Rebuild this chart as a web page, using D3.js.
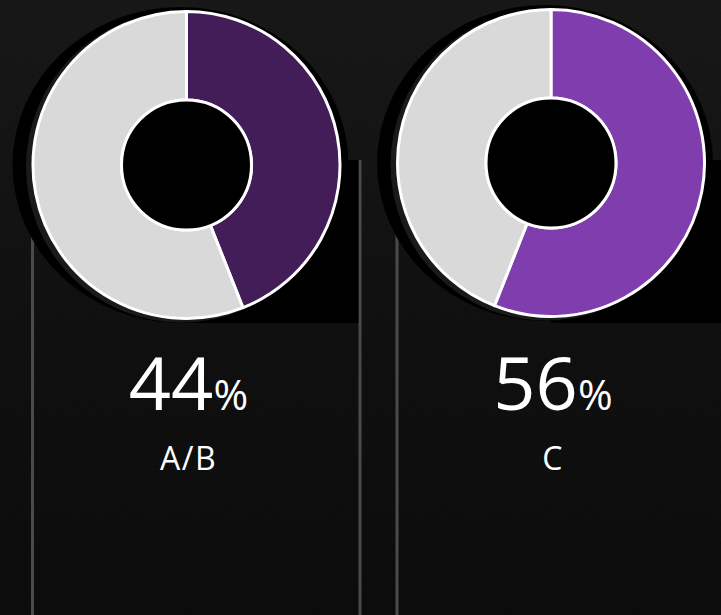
<!DOCTYPE html>
<html>
<head>
<meta charset="utf-8">
<script src="https://cdn.jsdelivr.net/npm/d3@7"></script>
<style>
  html, body { margin: 0; padding: 0; background: #0e0e0e; }
  svg { display: block; }
</style>
</head>
<body>
<script>
// ---- data ----
const categories = ["A/B", "C"];
const values = [44, 56];            // percent shown per panel
const percentLabels = ["44", "56"];
const seriesColors = ["#421d58", "#803dad"];
const restColor = "#d9d9d9";

const W = 721, H = 615;
const svg = d3.select("body").append("svg").attr("width", W).attr("height", H);
const defs = svg.append("defs");

// background gradient + grain
const bg = defs.append("linearGradient").attr("id", "bg").attr("x1", 0).attr("y1", 0).attr("x2", 0).attr("y2", 1);
bg.append("stop").attr("offset", "0%").attr("stop-color", "#141414");
bg.append("stop").attr("offset", "55%").attr("stop-color", "#0c0c0c");
bg.append("stop").attr("offset", "100%").attr("stop-color", "#080808");
const noise = defs.append("filter").attr("id", "noise").attr("x", 0).attr("y", 0).attr("width", 1).attr("height", 1);
noise.append("feTurbulence").attr("type", "fractalNoise").attr("baseFrequency", 0.8).attr("numOctaves", 2).attr("seed", 3).attr("result", "n");
noise.append("feColorMatrix").attr("type", "matrix")
  .attr("values", "0 0 0 0 1  0 0 0 0 1  0 0 0 0 1  0 0 0 0.03 0");

svg.append("rect").attr("width", W).attr("height", H).attr("fill", "url(#bg)");
svg.append("rect").attr("width", W).attr("height", H).attr("filter", "url(#noise)");

// ---- scales ----
const x = d3.scalePoint().domain(categories).range([186.5, 551]);
const cyOf = d3.scaleOrdinal().domain(categories).range([165, 163]);
const R = 153.5, r = 65;

const pie = d3.pie().sort(null).startAngle(0).endAngle(2 * Math.PI);
const arc = d3.arc().innerRadius(r).outerRadius(R);

categories.forEach((cat, i) => {
  const cx = x(cat), cy = cyOf(cat);
  const g = svg.append("g");

  // panel borders
  g.append("line").attr("x1", cx - R - 0.5).attr("x2", cx - R - 0.5).attr("y1", 160).attr("y2", H)
    .attr("stroke", "#4a4a4a").attr("stroke-width", 3);
  g.append("line").attr("x1", cx + 173.5).attr("x2", cx + 173.5).attr("y1", 160).attr("y2", H)
    .attr("stroke", "#4a4a4a").attr("stroke-width", 3);

  // black shadow block
  g.append("rect").attr("x", cx).attr("y", 160).attr("width", 172).attr("height", 163).attr("fill", "#000");
  // shadow ellipse
  g.append("ellipse").attr("cx", cx - 6).attr("cy", cy).attr("rx", 168).attr("ry", 158)
    .attr("fill", "#000");
  // dark ring (secondary shadow)
  g.append("circle").attr("cx", cx - 5).attr("cy", cy + 2).attr("r", R + 2).attr("fill", "#1a1a1a");

  const dg = g.append("g").attr("transform", `translate(${cx},${cy})`);
  dg.selectAll("path").data(pie([values[i], 100 - values[i]])).join("path")
    .attr("d", arc)
    .attr("fill", (d, j) => j === 0 ? seriesColors[i] : restColor)
    .attr("stroke", "#fff").attr("stroke-width", 3).attr("stroke-linejoin", "round");
  dg.append("circle").attr("r", r).attr("fill", "#000").attr("stroke", "#fff").attr("stroke-width", 3);

  // texts
  const t = g.append("text").attr("x", cx + 2).attr("y", 410).attr("text-anchor", "middle")
    .attr("fill", "#fff").attr("font-family", "'Open Sans', sans-serif");
  t.append("tspan").attr("font-size", 74).text(percentLabels[i]);
  t.append("tspan").attr("font-size", 42).text("%");
  g.append("text").attr("x", cx + 2).attr("y", 470).attr("text-anchor", "middle")
    .attr("fill", "#fff").attr("font-family", "'Open Sans', sans-serif").attr("font-size", 32)
    .attr("letter-spacing", 1.5)
    .text(cat);
});
</script>
</body>
</html>
